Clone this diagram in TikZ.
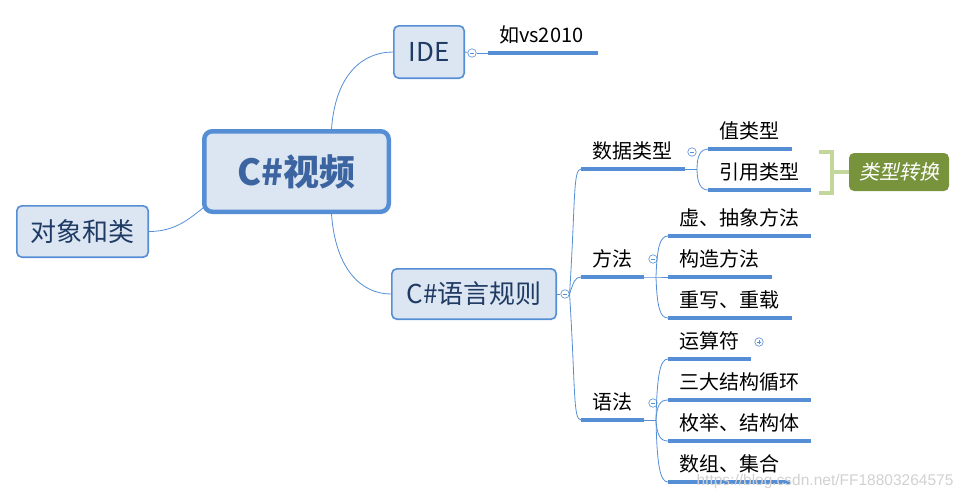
\documentclass[tikz,border=0pt]{standalone}
\usepackage{fontspec}
\setmainfont{Noto Sans CJK SC}
\newfontfamily\slantcjk[FakeSlant=0.2]{Noto Sans CJK SC}
\newfontfamily\markfont{Liberation Sans}
\usetikzlibrary{positioning}
\definecolor{linkblue}{HTML}{558ED5}
\definecolor{boxfill}{HTML}{DCE6F2}
\definecolor{boxtext}{HTML}{1F3B64}
\definecolor{roottext}{HTML}{3B64A0}
\definecolor{bracegreen}{HTML}{C3D69B}
\definecolor{olive}{HTML}{77933C}
\tikzset{
  mainbox/.style={draw=linkblue, fill=boxfill, rounded corners=5pt, line width=1.6pt,
    text=boxtext, inner sep=0pt, font=\fontsize{26}{30}\selectfont},
  rootbox/.style={mainbox, rounded corners=8pt, line width=4.5pt, text=roottext,
    font=\fontsize{36}{40}\selectfont\bfseries},
  uline/.style={draw=linkblue, line width=3.2pt},
  link/.style={draw=linkblue, line width=0.8pt},
  topic/.style={anchor=south west, inner xsep=11pt, inner ysep=3pt, text height=15pt,
    text depth=7pt, align=left, font=\fontsize{20}{24}\selectfont,
    append after command={(\tikzlastnode.south west) edge[uline] (\tikzlastnode.south east)}},
  fold/.style={circle, draw=linkblue, fill=white, line width=0.6pt, minimum size=8.5pt,
    inner sep=0pt, path picture={\draw[linkblue, line width=0.6pt]
      ([xshift=-2.3pt]path picture bounding box.center) -- ([xshift=2.3pt]path picture bounding box.center);}},
  unfold/.style={fold, path picture={\draw[linkblue, line width=0.6pt]
      ([xshift=-2.3pt]path picture bounding box.center) -- ([xshift=2.3pt]path picture bounding box.center)
      ([yshift=-2.3pt]path picture bounding box.center) -- ([yshift=2.3pt]path picture bounding box.center);}},
  brace/.style={draw=bracegreen, line width=3.5pt},
  convbox/.style={fill=olive, rounded corners=5pt, minimum width=100pt, minimum height=38pt,
    inner sep=0pt, text=white, font=\fontsize{20}{24}\slantcjk},
  watermark/.style={text=black!18, font=\fontsize{15.5}{18}\markfont}
}
\begin{document}
\begin{tikzpicture}[x=1pt,y=-1pt]
\useasboundingbox (0,0) rectangle (966,499);
%%%%%%%%%%%%%%%% boxes
\node[rootbox, minimum width=184.5pt, minimum height=80.5pt] (root) at (296.5,171.5) {C\#视频};
\node[mainbox, minimum width=131.4pt, minimum height=51.4pt] (oop) at (82.5,231.5) {对象和类};
\node[mainbox, minimum width=70.4pt, minimum height=52.4pt] (ide) at (429,52) {IDE};
\node[mainbox, minimum width=164.4pt, minimum height=50.4pt] (rule) at (474,294) {C\#语言规则};
%%%%%%%%%%%%%%%% root connectors
\draw[link] ([xshift=35pt]root.north) .. controls +(4,-55) and +(-30,0) .. (ide.west);
\draw[link] ([xshift=35pt]root.south) .. controls +(4,55) and +(-30,0) .. (rule.west);
\draw[link] ([xshift=1pt,yshift=6pt]root.south west) .. controls +(-15,12) and +(25,0) .. (oop.east);
%%%%%%%%%%%%%%%% IDE
\node[topic, text width=88pt] (vs) at (488,53) {如vs2010};
\node[fold] (fide) at (472,53) {};
\draw[link] (ide.east) -- (fide);
\draw[link] (fide) -- (vs.south west);
%%%%%%%%%%%%%%%% C# rules
\node[topic, text width=82pt] (sj) at (581,169) {数据类型};
\node[topic, text width=41pt] (ff) at (581,277) {方法};
\node[topic, text width=41pt] (yf) at (581,420) {语法};
\node[fold] (frule) at (565,294) {};
\draw[link] (rule.east) -- (frule);
\draw[link] (frule.east) .. controls +(6,-95) and +(-8,0) .. (sj.south west);
\draw[link] (frule.east) .. controls +(4,-12) and +(-6,0) .. (ff.south west);
\draw[link] (frule.east) .. controls +(6,95) and +(-8,0) .. (yf.south west);
%%%%%%%%%%%%%%%% data types
\node[topic, text width=62pt] (zlx) at (708,149) {值类型};
\node[topic, text width=81pt] (yy) at (708,190) {引用类型};
\node[fold] (fsj) at (692,152) {};
\coordinate (bsj) at (697,169);
\draw[link] (sj.south east) -- (bsj);
\draw[link] (bsj) .. controls +(0,-14) and +(-7,0) .. (zlx.south west);
\draw[link] (bsj) .. controls +(0,14) and +(-7,0) .. (yy.south west);
\draw[brace] (819,152) -- (832,152) -- (832,193) -- (819,193);
\node[convbox] (conv) at (899,172) {类型转换};
\draw[brace] (832,172) -- (conv.west);
%%%%%%%%%%%%%%%% methods
\node[topic, text width=121pt] (xc) at (668,236) {虚、抽象方法};
\node[topic, text width=82pt] (gz) at (668,277) {构造方法};
\node[topic, text width=102pt] (cx) at (668,318) {重写、重载};
\node[fold] (fff) at (653,259) {};
\coordinate (bff) at (656,277);
\draw[link] (ff.south east) -- (bff) -- (gz.south west);
\draw[link] (bff) .. controls +(1,-30) and +(-8,0) .. (xc.south west);
\draw[link] (bff) .. controls +(1,30) and +(-8,0) .. (cx.south west);
%%%%%%%%%%%%%%%% syntax
\node[topic, text width=61pt] (ys) at (668,359) {运算符};
\node[topic, text width=121pt] (sd) at (668,400) {三大结构循环};
\node[topic, text width=121pt] (mj) at (668,441) {枚举、结构体};
\node[topic, text width=100pt] (sz) at (668,482) {数组、集合};
\node[fold] (fyf) at (653,403) {};
\node[unfold] (fys) at (759,342) {};
\coordinate (byf) at (656,420);
\draw[link] (yf.south east) -- (byf);
\foreach \n/\c in {ys/-45,sd/-15,mj/15,sz/45}
  \draw[link] (byf) .. controls +(1,\c) and +(-8,0) .. (\n.south west);
%%%%%%%%%%%%%%%%
\node[watermark] (wm) at (825,481) {https://blog.csdn.net/FF18803264575};
\end{tikzpicture}
\end{document}
